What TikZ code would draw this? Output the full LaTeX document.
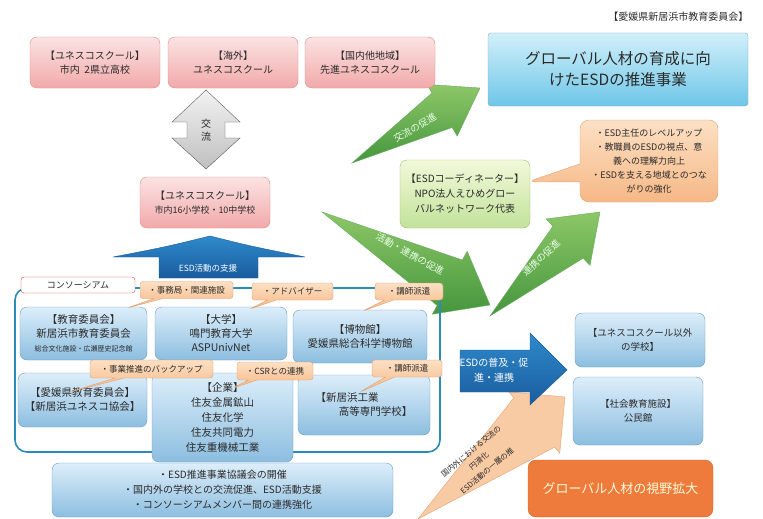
\documentclass[tikz,border=0pt]{standalone}
\usepackage{fontspec}
\setmainfont{Noto Sans CJK JP}
\usetikzlibrary{calc,shapes.callouts}
\definecolor{pinkT}{HTML}{FBE3E3}
\definecolor{pinkBt}{HTML}{F2A9A9}
\definecolor{pinkD}{HTML}{D98C8C}
\definecolor{blueT}{HTML}{DDEEFA}
\definecolor{blueBt}{HTML}{8CBEE0}
\definecolor{blueD}{HTML}{6A9CC0}
\definecolor{titleT}{HTML}{D2F0FA}
\definecolor{titleBt}{HTML}{6EC6E8}
\definecolor{titleD}{HTML}{8AAAB8}
\definecolor{greenT}{HTML}{F2F9DA}
\definecolor{greenBt}{HTML}{C2E29A}
\definecolor{greenD}{HTML}{9CC070}
\definecolor{peachT}{HTML}{FCE0C4}
\definecolor{peachBt}{HTML}{F6B886}
\definecolor{peachD}{HTML}{E2A070}
\definecolor{arrGa}{HTML}{8DC767}
\definecolor{arrGb}{HTML}{45963D}
\definecolor{arrBa}{HTML}{2F8ACB}
\definecolor{arrBb}{HTML}{1A5C9E}
\definecolor{salmonF}{HTML}{F8CBA4}
\definecolor{salmonD}{HTML}{E5A376}
\definecolor{orangeBig}{HTML}{EE7A3C}
\definecolor{frameC}{HTML}{2A8DB8}
\definecolor{consR}{HTML}{C04050}
\definecolor{txt}{HTML}{2A2A2A}
\newcommand\fz[2]{\fontsize{#1}{#2}\selectfont}
% #1 tail, #2 head, #3 neck, #4 body half width, #5 wing half width, #6 style
\newcommand\taperarrow[6]{%
  \coordinate (tN) at ($(#2)!#3!(#1)$);
  \path[#6] (#1) -- ($(tN)!#4!90:(#2)$) -- ($(tN)!#5!90:(#2)$) -- (#2)
     -- ($(tN)!#5!-90:(#2)$) -- ($(tN)!#4!-90:(#2)$) -- cycle;}
\tikzset{
  basebox/.style={rounded corners=7pt, align=center, text=txt, inner sep=2pt},
  pinkbox/.style={basebox, draw=pinkD, top color=pinkT, bottom color=pinkBt,
     minimum width=130pt, minimum height=51pt, font=\fz{10}{14}},
  bluebox/.style={basebox, draw=blueD, top color=blueT, bottom color=blueBt,
     font=\fz{10.5}{14}},
  callbox/.style={rectangle callout, rounded corners=3pt, draw=peachD,
     top color=peachT, bottom color=peachBt, text=txt, font=\fz{8.5}{10},
     inner sep=1pt, callout pointer width=9pt},
  greenarrow/.style={top color=arrGa, bottom color=arrGb, draw=arrGb!80},
  arrowtext/.style={text=white!92!green, font=\fz{9.5}{11}},
}
\begin{document}
\begin{tikzpicture}[x=1pt,y=-1pt]
\useasboundingbox (0,0) rectangle (763,519);
\fill[white] (0,0) rectangle (763,519);

% header
\node[anchor=east, text=txt, font=\fz{10}{12}] (hdr) at (752,17) {【愛媛県新居浜市教育委員会】};

% green arrows
\coordinate (aT) at (352,163); \coordinate (aH) at (480,88);
\taperarrow{aT}{aH}{44pt}{20pt}{30pt}{greenarrow}
\node[arrowtext, rotate=30] (aL) at (415,128) {交流の促進};

\coordinate (bT) at (322,212); \coordinate (bH) at (490,305);
\taperarrow{bT}{bH}{46pt}{26pt}{36pt}{greenarrow}
\node[arrowtext, rotate=-29] (bL) at (410,254) {活動・連携の促進};

\coordinate (cT) at (490,316); \coordinate (cH) at (600,212);
\taperarrow{cT}{cH}{44pt}{22pt}{32pt}{greenarrow}
\node[arrowtext, rotate=43] (cL) at (541,258) {連携の促進};

% salmon arrow
\coordinate (dT) at (418,519); \coordinate (dH) at (565,397);
\taperarrow{dT}{dH}{40pt}{32pt}{40pt}{fill=salmonF, draw=salmonD}
\node[text=txt, rotate=40, align=center, font=\fz{7.5}{12.5}] (dL) at (479,461)
  {国内外における交流の\\円滑化\\ESD活動の一層の推};

% top pink boxes
\node[pinkbox] (p1) at (95,62.5) {【ユネスコスクール】\\市内\ \ 2県立高校};
\node[pinkbox] (p2) at (233,62.5) {【海外】\\ユネスコスクール};
\node[pinkbox] (p3) at (370,62.5) {【国内他地域】\\先進ユネスコスクール};

% title
\node[rounded corners=3pt, draw=titleD, top color=titleT, bottom color=titleBt,
  minimum width=260pt, minimum height=73pt, align=center, text=txt,
  font=\fz{15.5}{21}] (title) at (618,69.5) {グローバル人材の育成に向\\けたESDの推進事業};

% exchange double arrow
\draw[draw=black!65, top color=black!5, bottom color=black!25]
  (206,90) -- (240,122) -- (225,122) -- (225,138) -- (240,138) -- (206,169)
  -- (172,138) -- (187,138) -- (187,122) -- (172,122) -- cycle;
\node[text=txt, align=center, font=\fz{10}{13}] (kr) at (206,130) {交\\流};

% city schools
\node[pinkbox] (p4) at (205,202.5) {【ユネスコスクール】\\{\fz{9}{13}市内16小学校・10中学校}};

% blue up arrow
\draw[draw=arrBb, top color=arrBa, bottom color=arrBb]
  (210,236) .. controls (250,246) .. (305,257) -- (258,257) -- (258,278)
  -- (159,278) -- (159,257) -- (113,257) .. controls (165,247) .. (210,236) -- cycle;
\node[text=white, font=\fz{8.5}{10}] (sup) at (208,268) {ESD活動の支援};

% consortium frame
\draw[frameC, line width=1.6pt, rounded corners=12pt] (15,288) rectangle (440,452);
\node[draw=consR, fill=white, rounded corners=3pt, minimum width=114pt,
  minimum height=16pt, inner sep=1pt, text=txt, font=\fz{9}{11}] (cons) at (78,285) {コンソーシアム};

% member boxes
\node[bluebox, minimum width=127pt, minimum height=53pt] (e1) at (83.5,333.5)
  {【教育委員会】\\新居浜市教育委員会\\{\fz{7}{9}総合文化施設・広瀬歴史記念館}};
\node[bluebox, minimum width=132pt, minimum height=53pt] (e2) at (221,333.5)
  {【大学】\\鳴門教育大学\\ASPUnivNet};
\node[bluebox, minimum width=134pt, minimum height=53pt] (e3) at (360,336.5)
  {【博物館】\\愛媛県総合科学博物館};
\node[bluebox, minimum width=129pt, minimum height=54pt] (e4) at (82.5,400)
  {【愛媛県教育委員会】\\【新居浜ユネスコ協会】};
\node[bluebox, minimum width=141pt, minimum height=89pt, font=\fz{10.5}{15}] (e5) at (222.5,417.5)
  {【企業】\\住友金属鉱山\\住友化学\\住友共同電力\\住友重機械工業};
\node[bluebox, minimum width=132pt, minimum height=60pt, align=left] (e6) at (364,405)
  {【新居浜工業\\\hspace*{2.2em}高等専門学校】};
\node[bluebox, minimum width=341pt, minimum height=54pt, font=\fz{10}{15}] (e7) at (222.5,490)
  {・ESD推進事業協議会の開催\\・国内外の学校との交流促進、ESD活動支援\\・コンソーシアムメンバー間の連携強化};

% callouts
\coordinate (q1) at (127,308);
\coordinate (q2) at (250,309);
\coordinate (q3) at (363,311);
\coordinate (q4) at (70,392);
\coordinate (q5) at (233,388);
\coordinate (q6) at (360,392);
\node[callbox, minimum width=93pt, minimum height=17pt, callout absolute pointer={(q1)}] (c1) at (186.5,290) {・事務局・関連施設};
\node[callbox, minimum width=81pt, minimum height=17pt, callout absolute pointer={(q2)}] (c2) at (292.5,291.5) {・アドバイザー};
\node[callbox, minimum width=68pt, minimum height=17pt, callout absolute pointer={(q3)}] (c3) at (409,291.5) {・講師派遣};
\node[callbox, minimum width=123pt, minimum height=18pt, callout absolute pointer={(q4)}] (c4) at (151.5,369) {・事業推進のバックアップ};
\node[callbox, minimum width=76pt, minimum height=18pt, callout absolute pointer={(q5)}] (c5) at (275,371) {・CSRとの連携};
\node[callbox, minimum width=70pt, minimum height=17pt, callout absolute pointer={(q6)}] (c6) at (407,368.5) {・講師派遣};

% coordinator
\node[basebox, draw=greenD, top color=greenT, bottom color=greenBt,
  minimum width=130pt, minimum height=68pt, font=\fz{10}{15}] (coord) at (465,194)
  {【ESDコーディネーター】\\NPO法人えひめグロー\\バルネットワーク代表};
\coordinate (q7) at (527,182);
\node[callbox, rounded corners=9pt, minimum width=138pt, minimum height=82pt,
  align=center, font=\fz{9}{14}, callout pointer width=18pt,
  callout absolute pointer={(q7)}] (goal) at (649,161)
  {・ESD主任のレベルアップ\\・教職員のESDの視点、意\\義への理解力向上\\・ESDを支える地域とのつな\\がりの強化};

% blue right arrow
\draw[draw=arrBb, top color=arrBa, bottom color=arrBb]
  (460,350) -- (530,350) -- (530,333) -- (567,370) -- (530,405) -- (530,392)
  -- (460,392) -- cycle;
\node[text=white, align=center, font=\fz{10}{15}] (spread) at (494,370) {ESDの普及・促\\進・連携};

% right boxes
\node[bluebox, minimum width=130pt, minimum height=54pt, font=\fz{9.5}{14}] (r1) at (640,340)
  {【ユネスコスクール以外\\の学校】};
\node[bluebox, minimum width=130pt, minimum height=68pt, font=\fz{9.5}{14}] (r2) at (638,411)
  {【社会教育施設】\\公民館};
\node[rounded corners=8pt, fill=orangeBig, draw=orangeBig!85!black,
  minimum width=185pt, minimum height=57pt, text=white!85!yellow,
  font=\fz{13}{15}] (vision) at (620.5,488.5) {グローバル人材の視野拡大};
\end{tikzpicture}
\end{document}
